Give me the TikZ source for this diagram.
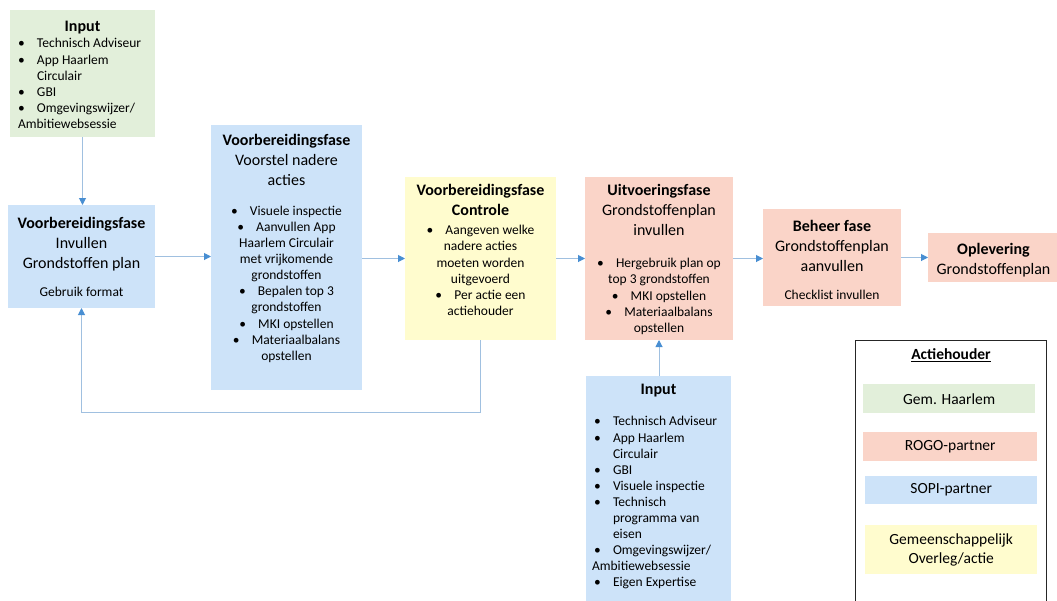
\documentclass[tikz,border=0pt]{standalone}
\usepackage{fontspec}
\setmainfont{Carlito}
\usetikzlibrary{arrows.meta, positioning, calc}
\definecolor{groenvak}{RGB}{226,239,218}
\definecolor{blauwvak}{RGB}{205,227,249}
\definecolor{roodvak}{RGB}{250,212,200}
\definecolor{geelvak}{RGB}{255,252,206}
\definecolor{pijllijn}{RGB}{160,192,224}
\definecolor{pijlpunt}{RGB}{72,142,210}

% text helpers
\newcommand{\kop}{\fontsize{16}{20}\selectfont}
\newcommand{\tekst}{\fontsize{13.5}{16.1}\selectfont}
\newcommand{\itm}{\makebox[19pt][l]{\textbullet}}
\newcommand{\verv}{\hspace*{19pt}}
\newcommand{\cbul}{\textbullet\hspace{0.9em}}
\newcommand{\vakinhoud}[4]{\parbox[c][#2][t]{#1}{\vspace*{#3}#4}}

\tikzset{
  fasevak/.style={inner sep=0pt, outer sep=0pt, anchor=north west, align=center},
  pijl/.style={draw=pijllijn, line width=1pt, -{Triangle[width=7pt,length=7pt,color=pijlpunt]}},
  legendavak/.style={inner sep=0pt, anchor=north west, align=center, font=\fontsize{15.5}{19}\selectfont}
}

\begin{document}
\begin{tikzpicture}[x=1pt, y=-1pt]
  \useasboundingbox (0,0) rectangle (1057,600);
  \clip (0,0) rectangle (1057,600);

  % Input boven
  \node[fasevak, fill=groenvak] (inputa) at (10,10) {\vakinhoud{145pt}{127pt}{11.5pt}{%
    \centering{\kop\bfseries Input}\par
    \raggedright\tekst\hspace*{8pt}\itm Technisch Adviseur\\
    \hspace*{8pt}\itm App Haarlem\\
    \hspace*{8pt}\verv Circulair\\
    \hspace*{8pt}\itm GBI\\
    \hspace*{8pt}\itm Omgevingswijzer/\\
    \hspace*{8pt}Ambitiewebsessie}};

  % Fase 1
  \node[fasevak, fill=blauwvak] (invullen) at (8,205) {\vakinhoud{147pt}{103pt}{12.5pt}{%
    \centering\kop{\bfseries Voorbereidingsfase}\\
    Invullen\\
    Grondstoffen plan\\[12pt]
    \tekst Gebruik format}};

  % Fase 2
  \node[fasevak, fill=blauwvak] (voorstel) at (211,125) {\vakinhoud{151pt}{265pt}{9pt}{%
    \centering\kop{\bfseries Voorbereidingsfase}\\
    Voorstel nadere\\
    acties\\[14pt]
    \tekst\cbul Visuele inspectie\\
    \cbul Aanvullen App\\
    Haarlem Circulair\\
    met vrijkomende\\
    grondstoffen\\
    \cbul Bepalen top 3\\
    grondstoffen\\
    \cbul MKI opstellen\\
    \cbul Materiaalbalans\\
    opstellen}};

  % Controle
  \node[fasevak, fill=geelvak] (controle) at (405,177) {\vakinhoud{151pt}{163pt}{7.5pt}{%
    \centering\kop\bfseries Voorbereidingsfase\\
    Controle\\[3pt]
    \tekst\mdseries\cbul Aangeven welke\\
    nadere acties\\
    moeten worden\\
    uitgevoerd\\
    \cbul Per actie een\\
    actiehouder}};

  % Uitvoering
  \node[fasevak, fill=roodvak] (uitvoering) at (585,177) {\vakinhoud{148pt}{163pt}{7.5pt}{%
    \centering\kop{\bfseries Uitvoeringsfase}\\
    Grondstoffenplan\\
    invullen\\[16pt]
    \tekst\cbul Hergebruik plan op\\
    top 3 grondstoffen\\
    \cbul MKI opstellen\\
    \cbul Materiaalbalans\\
    opstellen}};

  % Input onder
  \node[fasevak, fill=blauwvak] (inputb) at (586,376) {\vakinhoud{145pt}{240pt}{8.5pt}{%
    \centering{\kop\bfseries Input}\par\vspace{15pt}
    \raggedright\tekst\hspace*{8pt}\itm Technisch Adviseur\\
    \hspace*{8pt}\itm App Haarlem\\
    \hspace*{8pt}\verv Circulair\\
    \hspace*{8pt}\itm GBI\\
    \hspace*{8pt}\itm Visuele inspectie\\
    \hspace*{8pt}\itm Technisch\\
    \hspace*{8pt}\verv programma van\\
    \hspace*{8pt}\verv eisen\\
    \hspace*{8pt}\itm Omgevingswijzer/\\
    \hspace*{6pt}Ambitiewebsessie\\
    \hspace*{8pt}\itm Eigen Expertise}};

  % Beheer
  \node[fasevak, fill=roodvak] (beheer) at (763,209) {\vakinhoud{138pt}{97pt}{11pt}{%
    \centering\kop{\bfseries Beheer fase}\\
    Grondstoffenplan\\
    aanvullen\\[12pt]
    \tekst Checklist invullen}};

  % Oplevering
  \node[fasevak, fill=roodvak] (oplevering) at (928,233) {\vakinhoud{131pt}{49pt}{10pt}{%
    \centering\kop{\bfseries Oplevering}\\
    Grondstoffenplan}};

  % Legenda
  \node[draw=black!85, line width=1pt, inner sep=0pt, anchor=north west,
        minimum width=191pt, minimum height=280pt] (legenda) at (855,340) {};
  \node[font=\fontsize{15.5}{18}\selectfont\bfseries] (legkop) at (951,355) {\underline{Actiehouder}};
  \node[legendavak, fill=groenvak, minimum width=172pt, minimum height=29pt] (leggroen) at (863,384) {Gem. Haarlem};
  \node[legendavak, fill=roodvak, minimum width=174pt, minimum height=29pt] (legrood) at (863,432) {ROGO-partner};
  \node[legendavak, fill=blauwvak, minimum width=172pt, minimum height=28pt] (legblauw) at (865,476) {SOPI-partner};
  \node[legendavak, fill=geelvak, minimum width=172pt, minimum height=49pt] (leggeel) at (865,525) {Gemeenschappelijk\\Overleg/actie};

  % Verbindingen
  \draw[pijl] (inputa.south) -- (inputa.south |- invullen.north);
  \draw[pijl] (invullen.east) -- (invullen.east -| voorstel.west);
  \draw[pijl] (voorstel.east |- controle.west) -- (controle.west);
  \draw[pijl] (controle.east) -- (uitvoering.west);
  \draw[pijl] (uitvoering.east) -- (uitvoering.east -| beheer.west);
  \draw[pijl] (beheer.east) -- (beheer.east -| oplevering.west);
  \draw[pijl] (inputb.north -| uitvoering.south) -- (uitvoering.south);
  \draw[pijl] (controle.south) -- ++(0,72) -| (invullen.south);
\end{tikzpicture}
\end{document}
